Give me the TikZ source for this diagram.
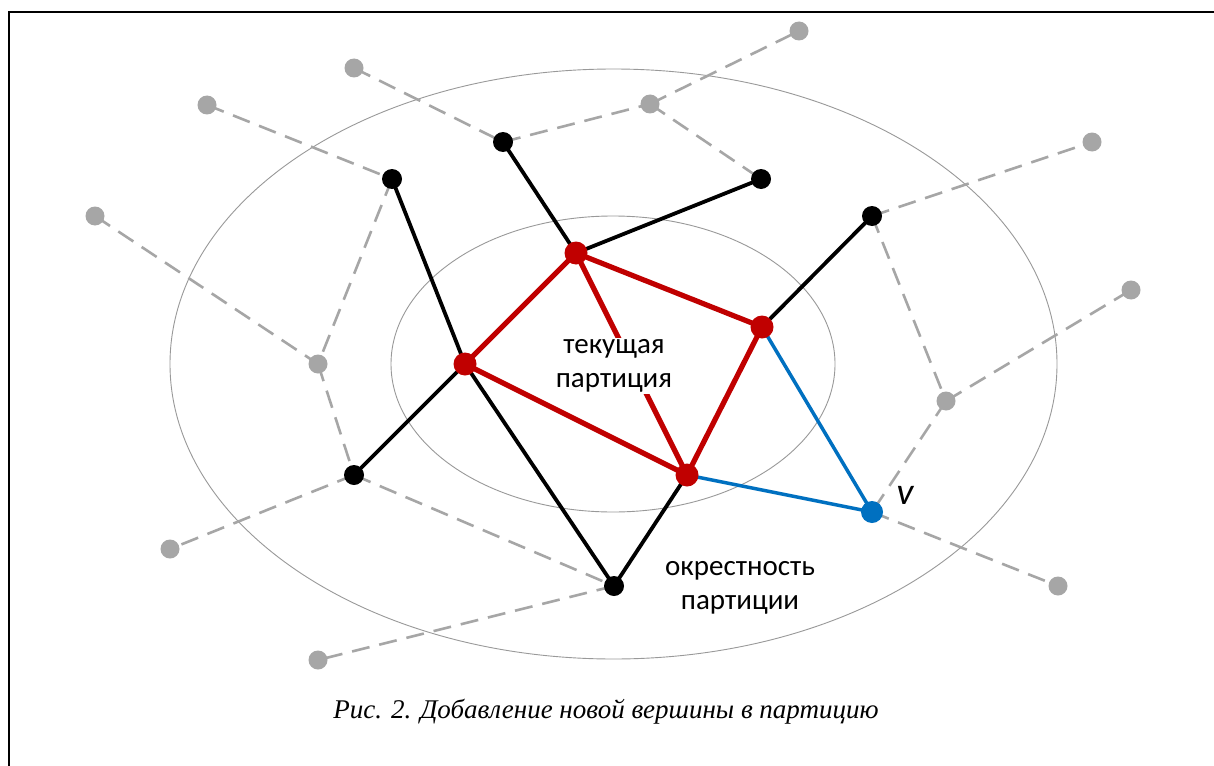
\documentclass[tikz,border=0pt]{standalone}
\usepackage{fontspec}
\setmainfont{Liberation Serif}
\newfontfamily\lab{Carlito}
\definecolor{nodegray}{RGB}{166,166,166}
\definecolor{partred}{RGB}{192,0,0}
\definecolor{newblue}{RGB}{0,112,192}
\begin{document}
\begin{tikzpicture}[x=1pt,y=-1pt,
  gnode/.style={circle,fill=nodegray,minimum size=19pt,inner sep=0pt},
  bnode/.style={circle,fill=black,minimum size=20pt,inner sep=0pt},
  rnode/.style={circle,fill=partred,minimum size=23pt,inner sep=0pt},
  vnode/.style={circle,fill=newblue,minimum size=22pt,inner sep=0pt},
  gedge/.style={draw=nodegray,line width=2.6pt,dash pattern=on 18pt off 10pt},
  bedge/.style={draw=black,line width=3.8pt},
  redge/.style={draw=partred,line width=5.2pt},
  vedge/.style={draw=newblue,line width=3.5pt},
  lbl/.style={font=\lab\fontsize{29}{34}\selectfont,align=center,text=black}]
\useasboundingbox (0,0) rectangle (1214,765);
\fill[white] (0,0) rectangle (1214,765);
\draw[line width=1.6pt] (9,800) -- (9,12) -- (1230,12);
% ellipses
\draw[gray!80,line width=0.9pt] (613.5,364) ellipse [x radius=443.5,y radius=295];
\draw[gray!80,line width=0.9pt] (613,364) ellipse [x radius=222,y radius=148];
% coordinates
\coordinate (G1) at (799,31);
\coordinate (G2) at (354,68);
\coordinate (G3) at (207,105);
\coordinate (G4) at (650,104);
\coordinate (G5) at (95,216);
\coordinate (G6) at (1092,142);
\coordinate (G7) at (1131,290);
\coordinate (G8) at (318,364);
\coordinate (G9) at (946,401);
\coordinate (G10) at (170,549);
\coordinate (G11) at (1058,586);
\coordinate (G12) at (318,660);
\coordinate (B1) at (503,142);
\coordinate (B2) at (392,179);
\coordinate (B3) at (761,179);
\coordinate (B4) at (872,216);
\coordinate (B5) at (354,475);
\coordinate (B6) at (614,586);
\coordinate (R1) at (576,253);
\coordinate (R2) at (465,364);
\coordinate (R3) at (762,327);
\coordinate (R4) at (687,475);
\coordinate (V) at (872,512);
% dashed edges
\foreach \a/\b in {G2/B1,B1/G4,G4/G1,G4/B3,G3/B2,B2/G8,G5/G8,G8/B5,B5/G10,B5/B6,B6/G12,B4/G6,B4/G9,G9/G7,G9/V,V/G11}
  \path[gedge] (\a) -- (\b);
% black edges
\foreach \a/\b in {B1/R1,R1/B3,B2/R2,R2/B6,R2/B5,R3/B4,R4/B6}
  \path[bedge] (\a) -- (\b);
% red edges
\foreach \a/\b in {R1/R2,R1/R3,R2/R4,R3/R4,R1/R4}
  \path[redge] (\a) -- (\b);
% blue edges
\path[vedge] (R3) -- (V);
\path[vedge] (R4) -- (V);
% label over red edge
\node[lbl,fill=white,inner sep=2pt] (cur) at (614,366) {текущая\\партиция};
\node[lbl] (nb) at (740,588) {окрестность\\партиции};
% nodes
\foreach \n in {G1,G2,G3,G4,G5,G6,G7,G8,G9,G10,G11,G12}
  \node[gnode] (n\n) at (\n) {};
\foreach \n in {B1,B2,B3,B4,B5,B6}
  \node[bnode] (n\n) at (\n) {};
\foreach \n in {R1,R2,R3,R4}
  \node[rnode] (n\n) at (\n) {};
\node[vnode] (nV) at (V) {};
\node[font=\lab\itshape\fontsize{38}{44}\selectfont] (vl) at (905,495) {v};
\node[font=\itshape\fontsize{27}{32}\selectfont] (cap) at (606,712) {Рис. 2. Добавление новой вершины в партицию};
\end{tikzpicture}
\end{document}
